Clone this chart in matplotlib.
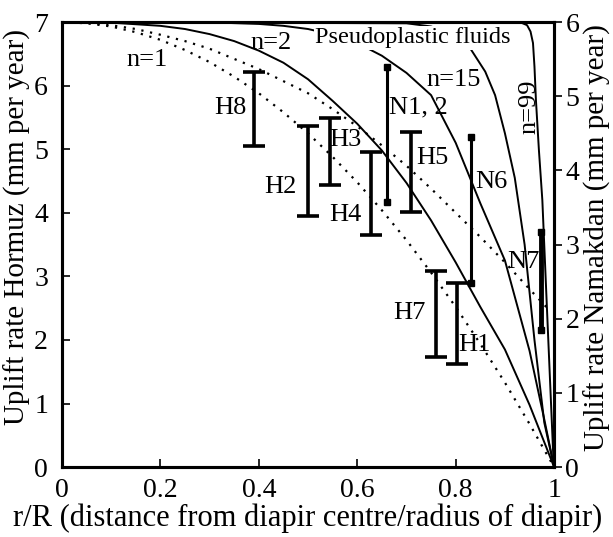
import matplotlib
matplotlib.use('Agg')
import matplotlib.pyplot as plt
import numpy as np

plt.rcParams['font.family'] = ['Liberation Serif', 'DejaVu Serif']
plt.rcParams['font.size'] = 19

# model curves (left axis, Hormuz units)
r_n1  = [0.0, 0.05, 0.1, 0.15, 0.2, 0.25, 0.3, 0.35, 0.4, 0.45, 0.5,
         0.55, 0.6, 0.65, 0.7, 0.75, 0.8, 0.85, 0.9, 0.95, 1.0]
v_n1  = [7.0, 6.98, 6.93, 6.84, 6.72, 6.56, 6.37, 6.14, 5.88, 5.58, 5.25,
         4.88, 4.48, 4.04, 3.57, 3.06, 2.52, 1.94, 1.33, 0.68, 0.0]

r_n1b = [0.0, 0.05, 0.1, 0.15, 0.2, 0.25, 0.3, 0.35, 0.4, 0.45, 0.5,
         0.55, 0.6, 0.65, 0.7, 0.75, 0.8, 0.85, 0.9, 0.95, 0.99]
v_n1b = [7.0, 6.99, 6.95, 6.89, 6.8, 6.70, 6.58, 6.42, 6.26, 6.07, 5.88,
         5.63, 5.36, 5.06, 4.74, 4.38, 4.0, 3.62, 3.22, 2.8, 2.47]

r_n2  = [0.0, 0.1, 0.2, 0.25, 0.3, 0.35, 0.4, 0.45, 0.5, 0.55, 0.6,
         0.65, 0.7, 0.75, 0.8, 0.85, 0.9, 0.95, 1.0]
v_n2  = [7.0, 6.99, 6.94, 6.89, 6.81, 6.70, 6.55, 6.36, 6.1, 5.76, 5.40,
         4.98, 4.47, 3.88, 3.22, 2.52, 1.85, 0.98, 0.0]

r_n5  = [0.0, 0.3, 0.4, 0.45, 0.5, 0.55, 0.6, 0.65, 0.7, 0.75, 0.8,
         0.85, 0.9, 0.95, 0.98, 1.0]
v_n5  = [7.0, 6.995, 6.97, 6.94, 6.89, 6.8, 6.67, 6.47, 6.2, 5.85, 5.1,
         4.15, 3.25, 1.83, 0.75, 0.0]

r_n15 = [0.0, 0.7, 0.75, 0.8, 0.83, 0.86, 0.88, 0.9, 0.92, 0.94, 0.96, 0.98, 1.0]
v_n15 = [7.0, 6.98, 6.93, 6.8, 6.58, 6.22, 5.85, 5.25, 4.55, 3.5, 2.0, 0.7, 0.0]

r_n99 = [0.0, 0.9, 0.93, 0.945, 0.952, 0.957, 0.96, 0.963, 0.969, 0.976, 0.987, 0.998, 1.0]
v_n99 = [7.0, 7.0, 7.0, 6.95, 6.85, 6.67, 6.3, 5.77, 4.99, 4.2, 2.2, 0.22, 0.0]

# Hormuz uplift ranges (left axis)
h_names = ['H8', 'H2', 'H3', 'H4', 'H5', 'H7', 'H1']
h_r     = [0.391, 0.499, 0.544, 0.627, 0.709, 0.760, 0.802]
h_lo    = [5.05, 3.95, 4.43, 3.65, 4.01, 1.73, 1.62]
h_hi    = [6.21, 5.36, 5.49, 4.95, 5.27, 3.08, 2.89]
h_lab_x = [0.342, 0.444, 0.576, 0.576, 0.753, 0.705, 0.837]
h_lab_y = [5.65, 4.40, 5.14, 3.96, 4.86, 2.42, 1.92]

# Namakdan uplift ranges (right axis)
n_names = ['N1, 2', 'N6', 'N7']
n_r     = [0.660, 0.831, 0.973]
n_lo    = [3.57, 2.48, 1.85]
n_hi    = [5.39, 4.45, 3.17]
n_lab_x = [0.725, 0.872, 0.937]
n_lab_y = [5.66, 4.48, 3.22]

fig = plt.figure(figsize=(6.13, 5.37), dpi=100)
ax = fig.add_axes([0.101, 0.130, 0.803, 0.829])
ax2 = ax.twinx()

dot = (0, (1, 3))
ax.plot(r_n1, v_n1, color='k', lw=1.6, ls=dot)
ax.plot(r_n1b, v_n1b, color='k', lw=1.6, ls=dot)
ax.plot(r_n2, v_n2, color='k', lw=1.4)
ax.plot(r_n5, v_n5, color='k', lw=1.4)
ax.plot(r_n15, v_n15, color='k', lw=1.4)
ax.plot(r_n99, v_n99, color='k', lw=1.4)

mid = (np.array(h_lo) + np.array(h_hi)) / 2
err = (np.array(h_hi) - np.array(h_lo)) / 2
ax.errorbar(h_r, mid, yerr=err, fmt='none', ecolor='k', elinewidth=2.6,
            capsize=8, capthick=2.6, zorder=4)
for name, x, y in zip(h_names, h_lab_x, h_lab_y):
    ax.text(x, y, name, ha='center', va='center', fontsize=19)

n_lw = [2.2, 2.2, 3.5]
for i in range(len(n_names)):
    ax2.plot([n_r[i], n_r[i]], [n_lo[i], n_hi[i]], color='k', lw=n_lw[i],
             marker='s', ms=4.5, solid_capstyle='butt', zorder=4)
for name, x, y in zip(n_names, n_lab_x, n_lab_y):
    ax.text(x, y, name, ha='center', va='center', fontsize=19)

ax.text(0.173, 6.40, 'n=1', ha='center', va='center', fontsize=19)
ax.text(0.424, 6.67, 'n=2', ha='center', va='center', fontsize=19)
ax.text(0.713, 6.75, 'Pseudoplastic fluids', ha='center', va='center', fontsize=17.5,
        bbox=dict(facecolor='white', edgecolor='none', pad=1), zorder=5)
ax.text(0.796, 6.09, 'n=15', ha='center', va='center', fontsize=19)
ax.text(0.949, 5.66, 'n=99', ha='center', va='center', fontsize=19, rotation=90)

ax.set_xlim(0, 1)
ax.set_ylim(0, 7)
ax2.set_ylim(0, 6)
ax.set_xticks([0, 0.2, 0.4, 0.6, 0.8, 1])
ax.set_xticklabels(['0', '0.2', '0.4', '0.6', '0.8', '1'])
ax.set_yticks(range(8))
ax2.set_yticks(range(7))
ax.tick_params(axis='both', direction='in', length=6, width=1.2, labelsize=20, pad=8)
ax.tick_params(axis='y', right=False, pad=10)
ax2.tick_params(axis='y', direction='out', length=6, width=1.2, labelsize=20, pad=2)
ax.set_xlabel('r/R (distance from diapir centre/radius of diapir)', fontsize=22, labelpad=0)
ax.set_ylabel('Uplift rate Hormuz (mm per year)', fontsize=21, labelpad=2)
ax2.set_ylabel('Uplift rate Namakdan (mm per year)', fontsize=21, labelpad=3)
ax.yaxis.label.set_y(0.54)
ax2.yaxis.label.set_y(0.515)
for a in (ax, ax2):
    for s in a.spines.values():
        s.set_linewidth(2.2)

plt.savefig('out.png', dpi=100)
